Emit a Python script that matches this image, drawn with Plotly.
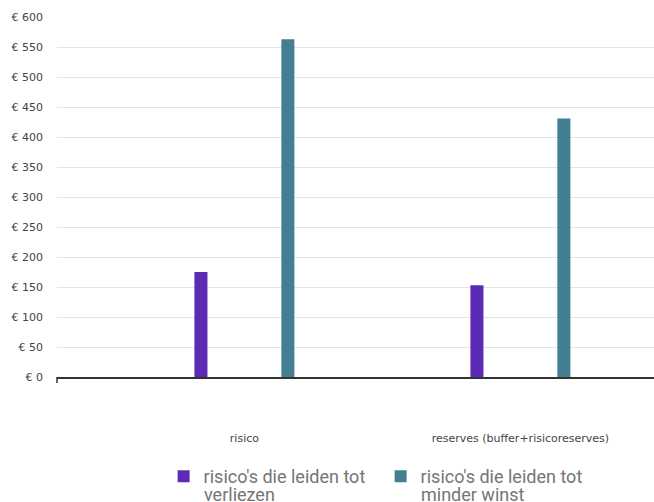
import plotly.graph_objects as go

categories = ["risico", "reserves (buffer+risicoreserves)"]
series_line1 = ["risico's die leiden tot", "risico's die leiden tot"]
series_line2 = ["verliezen", "minder winst"]
verliezen = [175, 153]
minder_winst = [563, 431]
y_ticks = [0, 50, 100, 150, 200, 250, 300, 350, 400, 450, 500, 550, 600]
y_tick_labels = ["€ " + str(v) for v in y_ticks]

colors = ["#5c2bb6", "#427f93"]
legend_font = dict(family="Roboto", size=18, color="#757575")
tick_font_family = "DejaVu Sans"

fig = go.Figure()
fig.add_trace(go.Bar(x=categories, y=verliezen, name=series_line1[0],
                     marker=dict(color=colors[0], line=dict(width=0))))
fig.add_trace(go.Bar(x=categories, y=minder_winst, name=series_line1[1],
                     marker=dict(color=colors[1], line=dict(width=0))))

fig.update_layout(
    width=654, height=502,
    margin=dict(l=57, r=0, t=17, b=125),
    paper_bgcolor="white", plot_bgcolor="white",
    font=dict(family="Roboto", size=11, color="#444444"),
    barmode="group", bargap=0.37, bargroupgap=0.85,
    showlegend=True,
    legend=dict(orientation="h", x=0.1786, xanchor="left", y=-0.225, yanchor="top",
                font=legend_font, entrywidth=172, entrywidthmode="pixels",
                itemclick=False, tracegroupgap=0),
)
fig.update_xaxes(type="category", range=[-0.679, 1.484], showgrid=False,
                 showline=True, linecolor="#333333", linewidth=1.5,
                 ticks="", ticklabelstandoff=50, automargin=False,
                 tickfont=dict(family=tick_font_family, size=11, color="#444444"))
fig.update_yaxes(range=[0, 600], tickvals=y_ticks, ticktext=y_tick_labels,
                 showgrid=True, gridcolor="#e3e3e3", gridwidth=1, zeroline=False,
                 showline=False, ticks="", ticklabelstandoff=13, automargin=False,
                 tickfont=dict(family=tick_font_family, size=11, color="#444444"))
# small downward tick at the left end of the baseline
fig.add_shape(type="line", xref="paper", yref="paper", x0=0, x1=0, y0=0, y1=-6/360,
              line=dict(color="#333333", width=1.5))
# second lines of the wrapped legend labels
for xpos, txt in zip([0.2445, 0.6080], series_line2):
    fig.add_annotation(xref="paper", yref="paper", x=xpos, y=-0.3276,
                       xanchor="left", yanchor="middle", text=txt,
                       showarrow=False, font=legend_font, borderpad=0)

fig.write_html("out.html", config={"displayModeBar": False},
               post_script="document.body.style.margin='0';")
